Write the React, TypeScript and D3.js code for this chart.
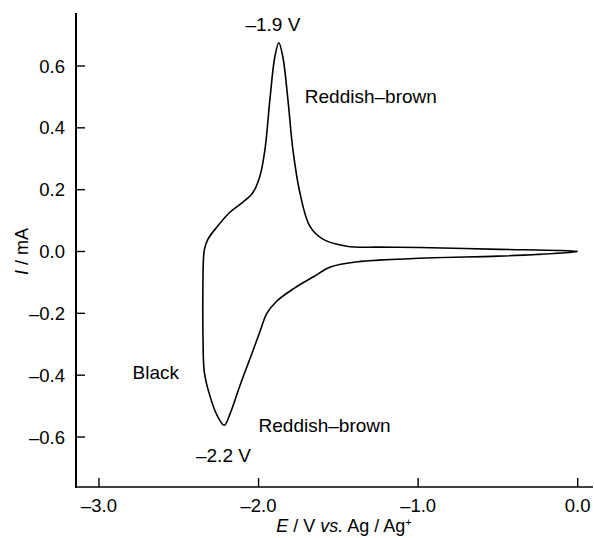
import * as d3 from "d3";

// cyclic voltammogram: scan goes negative first, then back
const lowerBranch: [number, number][] = [
  [0.0, 0.0],
  [-0.1, -0.005],
  [-0.5, -0.015],
  [-0.9, -0.02],
  [-1.25, -0.028],
  [-1.36, -0.032],
  [-1.55, -0.05],
  [-1.65, -0.08],
  [-1.78, -0.12],
  [-1.885, -0.16],
  [-1.948, -0.2],
  [-1.992, -0.26],
  [-2.054, -0.347],
  [-2.117, -0.434],
  [-2.179, -0.525],
  [-2.215, -0.562],
  [-2.26, -0.53],
  [-2.305, -0.467],
  [-2.34, -0.39],
  [-2.348, -0.283],
  [-2.349, -0.12],
  [-2.345, -0.02],
];

const upperBranch: [number, number][] = [
  [-2.338, 0.01],
  [-2.317, 0.04],
  [-2.26, 0.08],
  [-2.18, 0.127],
  [-2.098, 0.16],
  [-2.036, 0.19],
  [-1.992, 0.243],
  [-1.96, 0.33],
  [-1.929, 0.491],
  [-1.898, 0.63],
  [-1.873, 0.675],
  [-1.848, 0.63],
  [-1.816, 0.491],
  [-1.785, 0.33],
  [-1.741, 0.19],
  [-1.678, 0.081],
  [-1.597, 0.04],
  [-1.447, 0.017],
  [-1.24, 0.014],
  [-0.99, 0.013],
  [-0.49, 0.007],
  [-0.11, 0.003],
  [0.0, 0.0],
];

const xTicks = [-3.0, -2.0, -1.0, 0.0];
const yTicks = [-0.6, -0.4, -0.2, 0.0, 0.2, 0.4, 0.6];

// annotations: [E, I, text]
const notes: [number, number, string][] = [
  [-1.91, 0.712, "\u20131.9 V"],
  [-1.71, 0.48, "Reddish\u2013brown"],
  [-2.22, -0.68, "\u20132.2 V"],
  [-2.79, -0.412, "Black"],
  [-2.0, -0.585, "Reddish\u2013brown"],
];

const width = 594;
const height = 538;
const font = "'Liberation Sans', Arial, Helvetica, sans-serif";

const fmt = (v: number) => (v < 0 ? "\u2013" : "") + Math.abs(v).toFixed(1);

export default function App() {
  const x = d3.scaleLinear([-3, 0], [99, 577.7]);
  const y = d3.scaleLinear([-0.6, 0.6], [437, 66]);

  const left = 76;
  const bottom = 487;
  const top = 13;
  const right = 593;
  const tick = 9;

  const line = d3
    .line<[number, number]>()
    .x((d) => x(d[0]))
    .y((d) => y(d[1]))
    .curve(d3.curveCatmullRom.alpha(0.5));

  const loop = [...lowerBranch, ...upperBranch];

  return (
    <svg
      width={width}
      height={height}
      style={{ position: "absolute", left: 0, top: 0, background: "#fff" }}
      fontFamily={font}
    >
      {/* axes */}
      <g stroke="#000" fill="none">
        <line x1={left} x2={left} y1={top} y2={bottom + 1} strokeWidth={2} />
        <line x1={left} x2={right} y1={bottom} y2={bottom} strokeWidth={1.6} />
        {yTicks.map((t) => (
          <line key={t} x1={left} x2={left + tick} y1={y(t)} y2={y(t)} strokeWidth={1.4} />
        ))}
        {xTicks.map((t) => (
          <line key={t} x1={x(t)} x2={x(t)} y1={bottom} y2={bottom - tick} strokeWidth={1.4} />
        ))}
      </g>

      {/* tick labels */}
      <g fontSize={18.5} fill="#000">
        {yTicks.map((t) => (
          <text key={t} x={65} y={y(t) + 6.5} textAnchor="end">
            {fmt(t)}
          </text>
        ))}
        {xTicks.map((t) => (
          <text key={t} x={x(t)} y={512} textAnchor="middle">
            {fmt(t)}
          </text>
        ))}
      </g>

      {/* axis titles */}
      <text x={344} y={532} fontSize={18} textAnchor="middle">
        <tspan fontStyle="italic">E</tspan> / V <tspan fontStyle="italic">vs.</tspan> Ag / Ag
        <tspan fontSize={11} dy={-6}>+</tspan>
      </text>
      <text
        transform={`translate(28, ${y(0)}) rotate(-90)`}
        fontSize={18}
        textAnchor="middle"
      >
        <tspan fontStyle="italic">I</tspan> / mA
      </text>

      {/* curve */}
      <path d={line(loop) ?? ""} fill="none" stroke="#000" strokeWidth={1.6} />

      {/* annotations */}
      <g fontSize={19} fill="#000">
        {notes.map(([e, i, label], k) => (
          <text
            key={k}
            x={x(e)}
            y={y(i)}
            textAnchor={label.startsWith("\u2013") ? "middle" : "start"}
          >
            {label}
          </text>
        ))}
      </g>
    </svg>
  );
}
